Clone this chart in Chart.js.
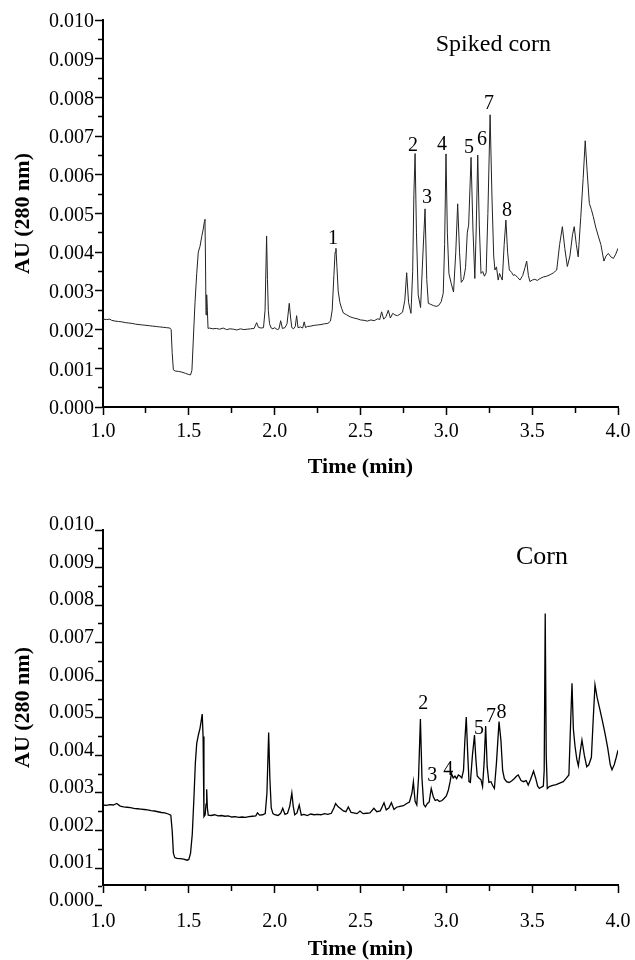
<!DOCTYPE html>
<html>
<head>
<meta charset="utf-8">
<script src="https://cdn.jsdelivr.net/npm/chart.js@4.4.1/dist/chart.umd.min.js"></script>
<style>
  body { margin: 0; background: #fff; }
  .panel { position: absolute; left: 0; width: 635px; height: 480px; }
</style>
</head>
<body>
<div class="panel" style="top:0"><canvas id="spiked" width="635" height="480"></canvas></div>
<div class="panel" style="top:480px"><canvas id="corn" width="635" height="480"></canvas></div>
<script>
// ====== DATA (absorbance in mAU, shown on the axis as AU) ======
const spikedTime = [
  1.00, 1.02, 1.04, 1.05, 1.07, 1.09, 1.11, 1.13, 1.15, 1.17,
  1.19, 1.21, 1.23, 1.25, 1.27, 1.29, 1.31, 1.33, 1.35, 1.37,
  1.39, 1.397, 1.403, 1.41, 1.42, 1.44, 1.46, 1.48, 1.50, 1.51,
  1.518, 1.526, 1.536, 1.546, 1.555, 1.565, 1.575, 1.584, 1.591, 1.594,
  1.597, 1.600, 1.604, 1.608, 1.612, 1.62, 1.64, 1.66, 1.68, 1.70,
  1.72, 1.74, 1.76, 1.78, 1.80, 1.82, 1.84, 1.86, 1.88, 1.895,
  1.905, 1.92, 1.935, 1.944, 1.953, 1.958, 1.963, 1.97, 1.98, 1.99,
  2.00, 2.015, 2.025, 2.035, 2.045, 2.06, 2.072, 2.085, 2.093, 2.10,
  2.11, 2.12, 2.128, 2.136, 2.15, 2.163, 2.172, 2.18, 2.19, 2.21,
  2.23, 2.25, 2.27, 2.29, 2.31, 2.325, 2.335, 2.345, 2.352, 2.357,
  2.363, 2.37, 2.38, 2.39, 2.40, 2.42, 2.44, 2.46, 2.48, 2.50,
  2.52, 2.54, 2.56, 2.58, 2.60, 2.612, 2.623, 2.635, 2.648, 2.662,
  2.674, 2.688, 2.70, 2.715, 2.73, 2.745, 2.758, 2.769, 2.78, 2.794,
  2.804, 2.811, 2.818, 2.826, 2.836, 2.850, 2.862, 2.876, 2.886, 2.895,
  2.91, 2.925, 2.94, 2.955, 2.97, 2.982, 2.99, 2.998, 3.006, 3.015,
  3.028, 3.042, 3.055, 3.066, 3.077, 3.087, 3.10, 3.112, 3.122, 3.130,
  3.144, 3.155, 3.166, 3.174, 3.183, 3.192, 3.202, 3.212, 3.222, 3.232,
  3.242, 3.255, 3.266, 3.276, 3.283, 3.292, 3.302, 3.31, 3.326, 3.337,
  3.347, 3.357, 3.367, 3.38, 3.39, 3.40, 3.415, 3.429, 3.445, 3.458,
  3.468, 3.478, 3.487, 3.50, 3.515, 3.53, 3.546, 3.565, 3.585, 3.605,
  3.625, 3.643, 3.66, 3.676, 3.69, 3.705, 3.72, 3.735, 3.745, 3.757,
  3.768, 3.783, 3.797, 3.809, 3.82, 3.833, 3.845, 3.856, 3.87, 3.885,
  3.90, 3.918, 3.93, 3.944, 3.958, 3.973, 3.987, 4.00
];
const spikedAU = [
  2.27, 2.26, 2.27, 2.24, 2.22, 2.21, 2.20, 2.18, 2.17, 2.16,
  2.14, 2.13, 2.12, 2.11, 2.10, 2.09, 2.08, 2.07, 2.06, 2.05,
  2.04, 2.00, 1.40, 0.96, 0.93, 0.92, 0.90, 0.87, 0.84, 0.83,
  0.95, 1.73, 2.70, 3.45, 4.00, 4.15, 4.40, 4.60, 4.80, 4.85,
  3.80, 2.38, 2.90, 2.50, 2.03, 2.04, 2.02, 2.03, 2.01, 2.04,
  2.00, 2.02, 2.01, 1.99, 2.02, 2.00, 2.01, 2.02, 2.03, 2.18,
  2.06, 2.04, 2.05, 2.50, 4.42, 3.30, 2.50, 2.15, 2.04, 2.02,
  2.05, 2.00, 2.02, 2.23, 2.03, 2.05, 2.15, 2.68, 2.30, 2.05,
  2.02, 2.08, 2.36, 2.05, 2.07, 2.04, 2.20, 2.05, 2.08, 2.09,
  2.11, 2.12, 2.13, 2.15, 2.16, 2.22, 2.50, 3.40, 4.00, 4.10,
  3.60, 3.00, 2.70, 2.55, 2.43, 2.38, 2.33, 2.30, 2.28, 2.25,
  2.24, 2.22, 2.25, 2.23, 2.28, 2.26, 2.46, 2.27, 2.33, 2.50,
  2.30, 2.42, 2.38, 2.36, 2.40, 2.45, 2.75, 3.47, 2.70, 2.42,
  3.50, 5.50, 6.55, 4.50, 2.90, 2.57, 3.80, 5.12, 3.30, 2.68,
  2.65, 2.62, 2.60, 2.62, 2.72, 2.94, 4.20, 6.54, 4.50, 3.45,
  3.20, 2.97, 4.00, 5.25, 4.00, 3.22, 3.30, 3.60, 4.50, 4.70,
  6.45, 4.60, 3.32, 4.60, 6.51, 4.70, 3.45, 3.50, 3.38, 3.47,
  5.00, 7.55, 5.40, 3.90, 3.54, 3.62, 3.28, 3.45, 3.28, 4.20,
  4.83, 4.00, 3.54, 3.48, 3.40, 3.42, 3.35, 3.28, 3.40, 3.60,
  3.77, 3.40, 3.24, 3.28, 3.30, 3.27, 3.32, 3.36, 3.38, 3.42,
  3.47, 3.54, 4.20, 4.66, 4.10, 3.63, 3.90, 4.45, 4.66, 4.20,
  3.88, 4.90, 5.90, 6.88, 6.10, 5.26, 5.10, 4.92, 4.65, 4.42,
  4.20, 3.77, 3.90, 3.97, 3.88, 3.84, 3.95, 4.10
];

const cornTime = [
  1.00, 1.02, 1.04, 1.06, 1.08, 1.10, 1.12, 1.14, 1.16, 1.18,
  1.20, 1.22, 1.24, 1.26, 1.28, 1.30, 1.32, 1.34, 1.36, 1.38,
  1.395, 1.403, 1.41, 1.418, 1.43, 1.45, 1.47, 1.49, 1.50, 1.51,
  1.52, 1.53, 1.538, 1.546, 1.556, 1.565, 1.572, 1.578, 1.583, 1.588,
  1.595, 1.600, 1.604, 1.608, 1.613, 1.63, 1.65, 1.67, 1.69, 1.71,
  1.73, 1.75, 1.77, 1.79, 1.81, 1.83, 1.85, 1.87, 1.89, 1.90,
  1.912, 1.93, 1.945, 1.955, 1.965, 1.972, 1.98, 1.99, 2.00, 2.02,
  2.035, 2.047, 2.06, 2.075, 2.088, 2.10, 2.108, 2.117, 2.13, 2.143,
  2.155, 2.17, 2.19, 2.21, 2.23, 2.25, 2.27, 2.29, 2.31, 2.33,
  2.345, 2.355, 2.37, 2.385, 2.40, 2.415, 2.429, 2.445, 2.46, 2.48,
  2.497, 2.515, 2.535, 2.555, 2.578, 2.595, 2.615, 2.637, 2.65, 2.665,
  2.68, 2.695, 2.71, 2.73, 2.75, 2.769, 2.785, 2.80, 2.808, 2.818,
  2.828, 2.838, 2.849, 2.858, 2.868, 2.878, 2.89, 2.90, 2.912, 2.924,
  2.935, 2.948, 2.96, 2.975, 2.988, 3.00, 3.012, 3.022, 3.030, 3.04,
  3.05, 3.06, 3.07, 3.08, 3.09, 3.10, 3.108, 3.116, 3.124, 3.132,
  3.14, 3.152, 3.164, 3.172, 3.18, 3.19, 3.202, 3.211, 3.22, 3.229,
  3.238, 3.248, 3.26, 3.27, 3.28, 3.292, 3.307, 3.318, 3.328, 3.338,
  3.351, 3.365, 3.38, 3.395, 3.41, 3.419, 3.435, 3.45, 3.465, 3.477,
  3.49, 3.508, 3.52, 3.532, 3.542, 3.552, 3.565, 3.570, 3.576, 3.582,
  3.588, 3.60, 3.62, 3.64, 3.66, 3.681, 3.70, 3.714, 3.722, 3.732,
  3.740, 3.75, 3.76, 3.769, 3.78, 3.79, 3.804, 3.818, 3.83, 3.845,
  3.855, 3.866, 3.878, 3.895, 3.91, 3.924, 3.94, 3.955, 3.965, 3.978,
  3.99, 4.00
];
const cornAU = [
  2.68, 2.67, 2.69, 2.68, 2.72, 2.65, 2.63, 2.62, 2.61, 2.59,
  2.58, 2.57, 2.56, 2.55, 2.53, 2.52, 2.50, 2.48, 2.47, 2.44,
  2.41, 2.00, 1.40, 1.28, 1.26, 1.25, 1.24, 1.21, 1.23, 1.40,
  1.90, 2.90, 3.80, 4.32, 4.55, 4.72, 4.92, 5.10, 4.50, 2.37,
  2.42, 2.70, 3.10, 2.60, 2.41, 2.40, 2.42, 2.39, 2.40, 2.38,
  2.39, 2.36, 2.37, 2.35, 2.36, 2.35, 2.37, 2.38, 2.39, 2.47,
  2.41, 2.42, 2.45, 3.00, 4.61, 3.40, 2.60, 2.45, 2.42, 2.40,
  2.46, 2.59, 2.43, 2.46, 2.65, 3.00, 2.65, 2.42, 2.47, 2.68,
  2.41, 2.43, 2.40, 2.44, 2.42, 2.43, 2.42, 2.45, 2.43, 2.46,
  2.60, 2.72, 2.63, 2.58, 2.52, 2.50, 2.63, 2.48, 2.47, 2.45,
  2.52, 2.45, 2.46, 2.47, 2.59, 2.50, 2.52, 2.74, 2.55, 2.60,
  2.74, 2.56, 2.62, 2.64, 2.66, 2.72, 2.76, 3.00, 3.30, 2.78,
  2.68, 3.40, 4.97, 3.40, 2.70, 2.63, 2.72, 2.76, 3.12, 2.90,
  2.80, 2.82, 2.77, 2.80, 2.86, 2.92, 3.08, 3.30, 3.52, 3.40,
  3.45, 3.38, 3.48, 3.45, 3.40, 3.60, 4.40, 5.02, 4.10, 3.30,
  3.28, 4.00, 4.54, 3.90, 3.45, 3.40, 3.35, 3.17, 3.80, 4.78,
  3.70, 3.28, 3.30, 3.20, 3.12, 3.80, 4.90, 4.40, 3.60, 3.38,
  3.30, 3.28, 3.32, 3.38, 3.45, 3.48, 3.33, 3.30, 3.33, 3.21,
  3.35, 3.58, 3.40, 3.18, 3.12, 3.15, 3.18, 3.60, 7.78, 4.00,
  3.12, 3.17, 3.20, 3.22, 3.26, 3.30, 3.40, 3.48, 4.60, 5.92,
  4.70, 4.23, 3.90, 3.72, 4.10, 4.41, 4.00, 3.70, 3.75, 3.95,
  4.90, 5.88, 5.55, 5.21, 4.90, 4.59, 4.20, 3.75, 3.62, 3.75,
  3.95, 4.14
];

// peak numbers (text centre, in data units)
const spikedPeakNames = ['1', '2', '3', '4', '5', '6', '7', '8'];
const spikedPeakTime  = [2.340, 2.806, 2.887, 2.975, 3.132, 3.208, 3.249, 3.353];
const spikedPeakAU    = [4.34, 6.74, 5.40, 6.77, 6.69, 6.90, 7.83, 5.06];
const cornPeakNames = ['2', '3', '4', '5', '7', '8'];
const cornPeakTime  = [2.866, 2.918, 3.011, 3.190, 3.260, 3.322];
const cornPeakAU    = [5.38, 3.45, 3.63, 4.72, 5.03, 5.13];

// ticks
const xTickValues = [1.0, 1.25, 1.5, 1.75, 2.0, 2.25, 2.5, 2.75, 3.0, 3.25, 3.5, 3.75, 4.0];
const xTickLabels = ['1.0', '', '1.5', '', '2.0', '', '2.5', '', '3.0', '', '3.5', '', '4.0'];
const yTickValues = [0, 0.5, 1, 1.5, 2, 2.5, 3, 3.5, 4, 4.5, 5, 5.5, 6, 6.5, 7, 7.5, 8, 8.5, 9, 9.5, 10];
const yTickLabels = ['0.000', '', '0.001', '', '0.002', '', '0.003', '', '0.004', '', '0.005', '',
                     '0.006', '', '0.007', '', '0.008', '', '0.009', '', '0.010'];

const SERIF = "'Liberation Serif', 'Times New Roman', serif";

// peak numbers + panel name
const peakText = {
  id: 'peakText',
  afterDatasetsDraw(chart, args, o) {
    const { ctx, scales: { x, y } } = chart;
    ctx.save();
    ctx.fillStyle = '#000';
    ctx.textAlign = 'center';
    ctx.textBaseline = 'middle';
    ctx.font = `20px ${SERIF}`;
    o.names.forEach((n, i) => {
      ctx.fillText(n, x.getPixelForValue(o.times[i]), y.getPixelForValue(o.values[i]));
    });
    ctx.font = `${o.titleSize}px ${SERIF}`;
    ctx.fillText(o.title, x.getPixelForValue(o.titleTime), y.getPixelForValue(o.titleValue));
    ctx.restore();
  }
};

function makeChart(id, times, values, cfg) {
  const pts = times.map((t, i) => ({ x: t, y: values[i] }));
  return new Chart(document.getElementById(id), {
    type: 'line',
    data: {
      datasets: [{
        data: pts,
        borderColor: cfg.lineColor,
        borderWidth: cfg.lineWidth,
        pointRadius: 0,
        tension: 0
      }]
    },
    options: {
      responsive: false,
      animation: false,
      layout: { padding: { top: cfg.padTop, right: 17, bottom: 0, left: 0 } },
      scales: {
        x: {
          type: 'linear', min: 1, max: 4,
          afterBuildTicks: (s) => { s.ticks = xTickValues.map(v => ({ value: v })); },
          afterFit: (s) => { s.height = cfg.xHeight; s.paddingLeft = 0; s.paddingRight = 0; },
          ticks: {
            autoSkip: false, maxRotation: 0, color: '#000', padding: cfg.xPad,
            font: { family: SERIF, size: 20 },
            callback: (v) => xTickLabels[xTickValues.indexOf(v)] ?? ''
          },
          grid: {
            drawOnChartArea: false, tickLength: 8, tickWidth: 1.5, tickColor: '#000',
            tickBorderDash: (c) => (xTickLabels[xTickValues.indexOf(c.tick.value)] ? [] : [5, 100])
          },
          border: { display: true, color: '#000', width: 2 },
          title: {
            display: true, text: 'Time (min)', color: '#000',
            font: { family: SERIF, size: 22, weight: 'bold', lineHeight: 1 },
            padding: { top: 0, bottom: cfg.xTitlePad }
          }
        },
        y: {
          type: 'linear', min: cfg.yMin, max: 10,
          afterBuildTicks: (s) => { s.ticks = yTickValues.map(v => ({ value: v })); },
          afterFit: (s) => { s.width = 103; },
          ticks: {
            autoSkip: false, color: '#000', padding: 1, labelOffset: cfg.yLabelOffset,
            font: { family: SERIF, size: 20 },
            callback: (v) => yTickLabels[yTickValues.indexOf(v)] ?? ''
          },
          grid: {
            drawOnChartArea: false, tickLength: 8, tickWidth: 1.5, tickColor: '#000',
            tickBorderDash: (c) => (yTickLabels[yTickValues.indexOf(c.tick.value)] ? [] : [0, 3, 4, 100])
          },
          border: { display: true, color: '#000', width: 2 },
          title: {
            display: true, text: 'AU (280 nm)', color: '#000',
            font: { family: SERIF, size: 22, weight: 'bold', lineHeight: 1 },
            padding: { top: 12, bottom: 0 }
          }
        }
      },
      plugins: {
        legend: { display: false },
        tooltip: { enabled: false },
        peakText: {
          names: cfg.names, times: cfg.peakTimes, values: cfg.peakValues,
          title: cfg.title, titleSize: cfg.titleSize, titleTime: cfg.titleTime, titleValue: cfg.titleValue
        }
      }
    },
    plugins: [peakText]
  });
}

makeChart('spiked', spikedTime, spikedAU, {
  lineColor: '#222', lineWidth: 1, padTop: 20, xHeight: 73, xPad: 5, xTitlePad: 2,
  yMin: 0, yLabelOffset: 2,
  names: spikedPeakNames, peakTimes: spikedPeakTime, peakValues: spikedPeakAU,
  title: 'Spiked corn', titleSize: 24, titleTime: 3.274, titleValue: 9.35
});

makeChart('corn', cornTime, cornAU, {
  lineColor: '#000', lineWidth: 1.3, padTop: 50, xHeight: 75, xPad: 17, xTitlePad: 0,
  yMin: 0.55, yLabelOffset: -5,
  names: cornPeakNames, peakTimes: cornPeakTime, peakValues: cornPeakAU,
  title: 'Corn', titleSize: 26, titleTime: 3.557, titleValue: 9.28
});
</script>
</body>
</html>
